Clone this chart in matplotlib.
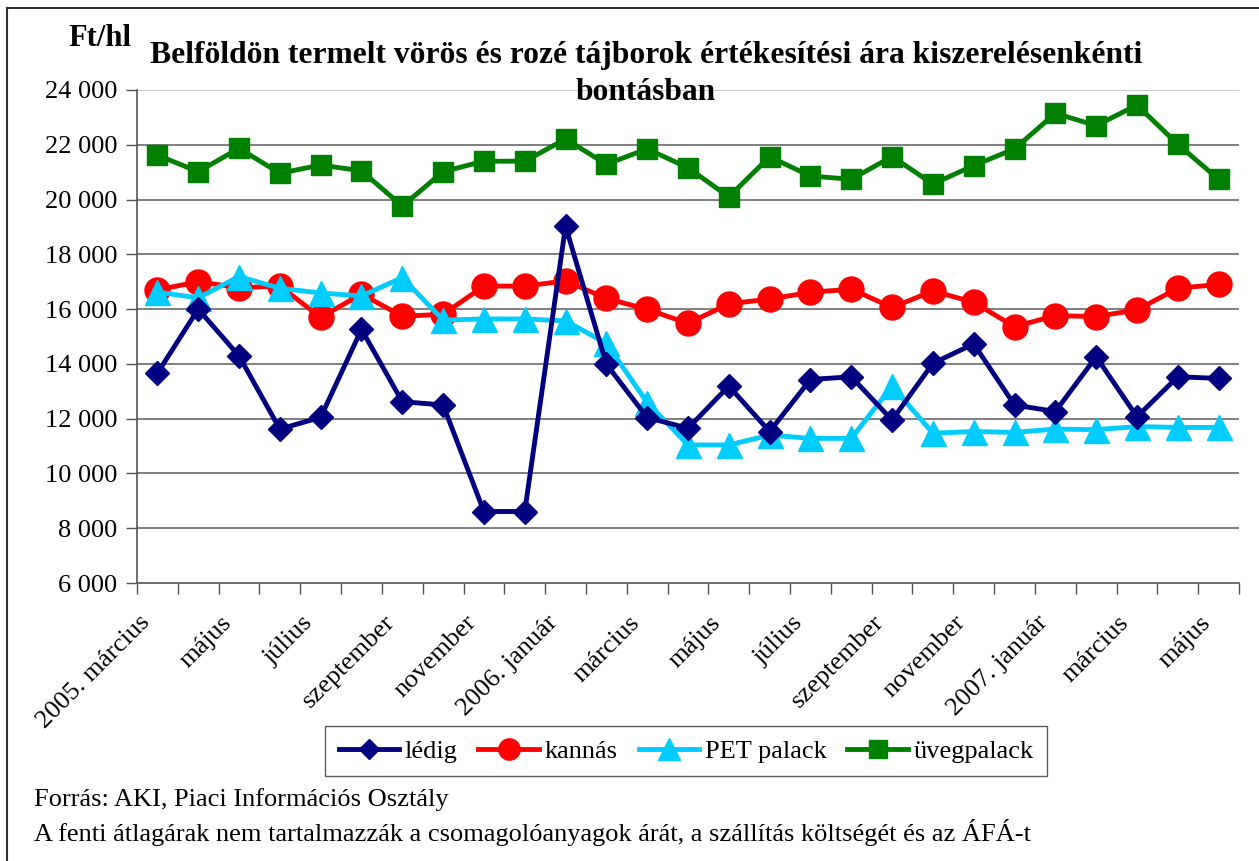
import numpy as np
import matplotlib.pyplot as plt
from matplotlib.lines import Line2D
from matplotlib.transforms import ScaledTranslation

plt.rcParams['font.family'] = ['Liberation Serif', 'DejaVu Serif']

# 2005 március .. 2007 május, one point a month
months = ['2005. március', 'április', 'május', 'június', 'július', 'augusztus',
          'szeptember', 'október', 'november', 'december', '2006. január',
          'február', 'március', 'április', 'május', 'június', 'július',
          'augusztus', 'szeptember', 'október', 'november', 'december',
          '2007. január', 'február', 'március', 'április', 'május']

ledig = [13660, 16000, 14290, 11620, 12050, 15260, 12620, 12500, 8610, 8610,
         19030, 13990, 12040, 11650, 13190, 11530, 13430, 13530, 11950, 14020,
         14730, 12500, 12260, 14260, 12070, 13530, 13470]
kannas = [16700, 17000, 16780, 16840, 15700, 16550, 15740, 15810, 16840, 16840,
          17030, 16390, 15990, 15480, 16190, 16370, 16610, 16730, 16060, 16660,
          16250, 15360, 15760, 15730, 15970, 16760, 16900]
pet = [16620, 16410, 17190, 16760, 16590, 16480, 17150, 15600, 15640, 15640,
       15570, 14750, 12590, 11040, 11040, 11400, 11280, 11280, 13190, 11470,
       11530, 11500, 11620, 11600, 11710, 11680, 11680]
uveg = [21620, 21020, 21870, 20960, 21260, 21050, 19760, 21020, 21400, 21400,
        22210, 21290, 21850, 21160, 20100, 21560, 20860, 20740, 21570, 20570,
        21240, 21850, 23150, 22700, 23450, 22020, 20740]

yticks = list(range(6000, 24001, 2000))

W, H = 1259, 861
fig = plt.figure(figsize=(W / 100, H / 100), dpi=100)
ax = fig.add_axes([137 / W, 1 - 583 / H, (1239 - 137) / W, (583 - 90) / H])

x = np.arange(len(months))
series = []
series += ax.plot(x, ledig, color='#000080', lw=3.5, marker='D', ms=12.5, label='lédig', zorder=6)
series += ax.plot(x, kannas, color='#ff0000', lw=3.5, marker='o', ms=18, label='kannás', zorder=3)
series += ax.plot(x, pet, color='#00ccff', lw=3.5, marker='^', ms=18, label='PET palack', zorder=5)
series += ax.plot(x, uveg, color='#008000', lw=3.5, marker='s', ms=14.5, label='üvegpalack', zorder=4)

ax.set_xlim(-0.5, len(months) - 0.5)
ax.set_ylim(6000, 24000)
ax.set_yticks(yticks)
ax.set_yticklabels([f'{v:,}'.replace(',', ' ') for v in yticks], fontsize=19)
for v in yticks[1:]:
    ax.axhline(v, color='#c0c0c0' if v == 24000 else '#6a6a6a', lw=1.2, zorder=1)

# category boundaries get tick marks, every second month a label
ax.set_xticks(np.arange(-0.5, len(months), 1.0))
ax.set_xticklabels([])
ax.tick_params(axis='x', which='major', length=8, width=1, color='#555555', direction='out')
ax.set_xticks(x[::2], minor=True)
ax.set_xticklabels(months[::2], minor=True, rotation=45, ha='right', va='top',
                   rotation_mode='anchor', fontsize=19)
ax.tick_params(axis='x', which='minor', length=0, pad=14)
shift = ScaledTranslation(-0.19, -0.09, fig.dpi_scale_trans)
for lab in ax.get_xticklabels(minor=True):
    lab.set_transform(lab.get_transform() + shift)
ax.tick_params(axis='y', length=8, width=1, color='#555555', pad=6)

for s in ['top', 'right']:
    ax.spines[s].set_visible(False)
for s in ['left', 'bottom']:
    ax.spines[s].set_color('#555555')
    ax.spines[s].set_linewidth(1.2)

fig.text(68 / W, 1 - 38 / H, 'Ft/hl', fontsize=22, fontweight='bold', va='center', ha='left')
fig.text(646 / W, 1 - 55 / H,
         'Belföldön termelt vörös és rozé tájborok értékesítési ára kiszerelésenkénti',
         fontsize=22.7, fontweight='bold', ha='center', va='center')
fig.text(646 / W, 1 - 93 / H, 'bontásban',
         fontsize=22.7, fontweight='bold', ha='center', va='center')

handles = [Line2D([], [], color=l.get_color(), lw=3.5, marker=l.get_marker(),
                  ms=l.get_markersize() * 0.85) for l in series]
leg = fig.legend(handles, [l.get_label() for l in series],
                 loc='center', bbox_to_anchor=(686 / W, 1 - 751 / H), ncol=4,
                 fontsize=19, frameon=True, fancybox=False, edgecolor='#333333',
                 handlelength=2.3, handletextpad=0.2, columnspacing=0.8,
                 borderpad=0.5)
leg.get_frame().set_linewidth(1.0)

fig.text(34 / W, 1 - 800 / H, 'Forrás: AKI, Piaci Információs Osztály', fontsize=19, va='center')
fig.text(34 / W, 1 - 832 / H,
         'A fenti átlagárak nem tartalmazzák a csomagolóanyagok árát, a szállítás költségét és az ÁFÁ-t',
         fontsize=19, va='center')

# outer chart frame (only top and left edges are in view)
fig.add_artist(Line2D([7 / W, 1], [1 - 8 / H, 1 - 8 / H], color='#333333', lw=1.5))
fig.add_artist(Line2D([7 / W, 7 / W], [0, 1 - 8 / H], color='#333333', lw=1.5))

fig.savefig('out.png', dpi=100)
